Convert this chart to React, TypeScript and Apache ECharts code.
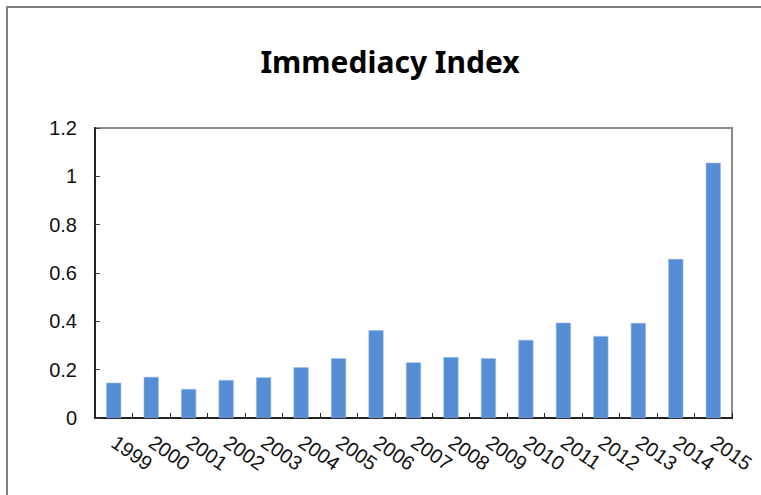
import React, { useEffect, useRef } from "react";
import * as echarts from "echarts";

const titleText = "Immediacy Index";
const years = ["1999","2000","2001","2002","2003","2004","2005","2006","2007","2008","2009","2010","2011","2012","2013","2014","2015"];
const immediacy = [0.146,0.170,0.120,0.157,0.168,0.210,0.247,0.363,0.230,0.252,0.247,0.323,0.394,0.339,0.393,0.658,1.056];
const yMin = 0;
const yMax = 1.2;
const yStep = 0.2;

export default function App() {
  const ref = useRef<HTMLDivElement>(null);
  useEffect(() => {
    if (!ref.current) return;
    const chart = echarts.init(ref.current, null, { renderer: "svg" });
    chart.setOption({
      animation: false,
      backgroundColor: "#ffffff",
      title: {
        text: titleText,
        left: 385,
        top: 41,
        textAlign: "center",
        textStyle: { fontFamily: "Noto Sans", fontWeight: "bold", fontSize: 30, color: "#000" },
      },
      graphic: [
        {
          type: "rect",
          shape: { x: 7, y: 7, width: 800, height: 600 },
          style: { fill: "none", stroke: "#7f7f7f", lineWidth: 2 },
          z: 100,
        },
      ],
      grid: {
        left: 95,
        right: 29,
        top: 128,
        bottom: 77,
        show: true,
        borderColor: "#8a8a8a",
        borderWidth: 2,
        containLabel: false,
      },
      xAxis: {
        type: "category",
        data: years,
        axisLine: { show: true, lineStyle: { color: "#222", width: 2 } },
        axisTick: { show: true, inside: true, length: 5, lineStyle: { color: "#222" } },
        axisLabel: {
          rotate: -35,
          margin: 22,
          fontFamily: "Liberation Sans",
          fontSize: 20,
          color: "#111",
          interval: 0,
        },
      },
      yAxis: {
        type: "value",
        min: yMin,
        max: yMax,
        interval: yStep,
        splitLine: { show: false },
        axisLine: { show: true, lineStyle: { color: "#222", width: 2 } },
        axisTick: { show: true, inside: true, length: 5, lineStyle: { color: "#444" } },
        axisLabel: {
          margin: 18,
          fontFamily: "Liberation Sans",
          fontSize: 20,
          color: "#111",
        },
      },
      series: [
        {
          type: "bar",
          data: immediacy,
          barWidth: 15,
          itemStyle: { color: "#558ed5", borderColor: "#8fb4e3", borderWidth: 0.6 },
        },
      ],
    });
    return () => chart.dispose();
  }, []);
  return <div ref={ref} style={{ position: "fixed", left: 0, top: 0, width: 761, height: 495 }} />;
}
